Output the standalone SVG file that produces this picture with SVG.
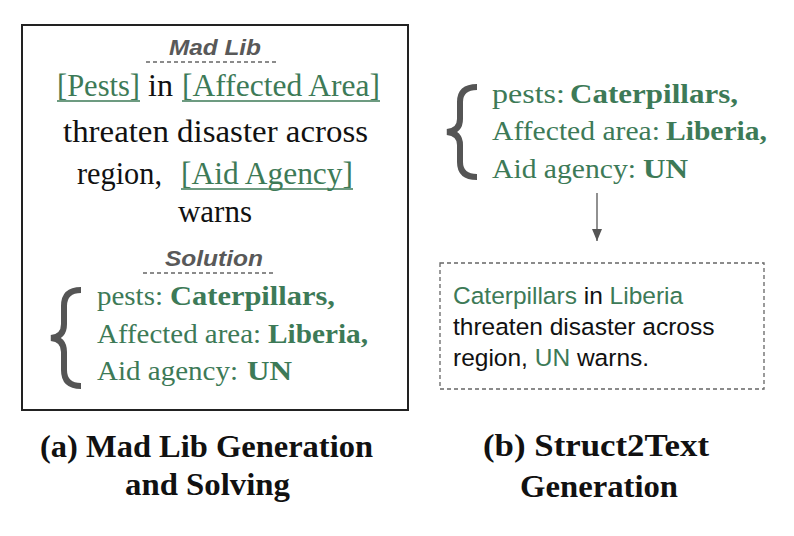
<svg xmlns="http://www.w3.org/2000/svg" width="794" height="536" viewBox="0 0 794 536">
<style>
.serif{font-family:"Liberation Serif","DejaVu Serif",serif;}
.body{font-size:31px;fill:#111;}
.g{fill:#3d7a57;}
.sol{font-size:27px;}
.b{font-weight:bold;}
.ttl{font-family:"Liberation Sans",Arial,sans-serif;font-style:italic;font-weight:bold;font-size:22px;fill:#595959;}
.dash{stroke:#666;stroke-width:1.3;stroke-dasharray:4,3;fill:none;}
.ul{stroke:#3d7a57;stroke-width:1.5;}
.brace{stroke:#555;stroke-width:6;fill:none;stroke-linecap:butt;}
.sans{font-family:"Liberation Sans",Arial,sans-serif;font-size:24.5px;fill:#111;}
.cap{font-family:"Liberation Serif","DejaVu Serif",serif;font-weight:bold;font-size:32px;fill:#111;}
</style>
<defs>
<marker id="ah" markerWidth="12" markerHeight="10" refX="12" refY="5" orient="auto" markerUnits="userSpaceOnUse" viewBox="0 0 12 10">
<path d="M0,0 L12,5 L0,10 Z" fill="#555"/>
</marker>
</defs>
<rect width="794" height="536" fill="#fff"/>

<g id="madlib-box">
<rect x="22" y="25" width="386" height="385" fill="none" stroke="#222" stroke-width="2"/>
<text class="ttl" x="169" y="55" textLength="92" lengthAdjust="spacingAndGlyphs">Mad Lib</text>
<line class="dash" x1="146" y1="62" x2="278" y2="62"/>
<text class="serif body g" x="57" y="96" textLength="83" lengthAdjust="spacingAndGlyphs">[Pests]</text>
<text class="serif body" x="148" y="96" textLength="25" lengthAdjust="spacingAndGlyphs">in</text>
<text class="serif body g" x="182" y="96" textLength="198" lengthAdjust="spacingAndGlyphs">[Affected Area]</text>
<line class="ul" x1="57" y1="101" x2="140" y2="101"/>
<line class="ul" x1="182" y1="101" x2="380" y2="101"/>
<text class="serif body" x="63" y="142" textLength="305" lengthAdjust="spacingAndGlyphs">threaten disaster across</text>
<text class="serif body" x="77" y="184" textLength="85" lengthAdjust="spacingAndGlyphs">region,</text>
<text class="serif body g" x="181" y="184" textLength="172" lengthAdjust="spacingAndGlyphs">[Aid Agency]</text>
<line class="ul" x1="181" y1="189" x2="353" y2="189"/>
<text class="serif body" x="215" y="222" text-anchor="middle">warns</text>
<text class="ttl" x="165" y="266" textLength="98" lengthAdjust="spacingAndGlyphs">Solution</text>
<line class="dash" x1="143" y1="273" x2="275" y2="273"/>
<path class="brace" d="M81,290 Q64,290 64,306 L64,324 Q64,337 51,338 Q64,339 64,352 L64,370 Q64,386 81,386"/>
<text class="serif sol g" x="97" y="305" textLength="66" lengthAdjust="spacingAndGlyphs">pests:</text>
<text class="serif sol g b" x="170" y="305" textLength="165" lengthAdjust="spacingAndGlyphs">Caterpillars,</text>
<text class="serif sol g" x="97" y="343" textLength="164" lengthAdjust="spacingAndGlyphs">Affected area:</text>
<text class="serif sol g b" x="268" y="343" textLength="100" lengthAdjust="spacingAndGlyphs">Liberia,</text>
<text class="serif sol g" x="97" y="380" textLength="141" lengthAdjust="spacingAndGlyphs">Aid agency:</text>
<text class="serif sol g b" x="247" y="380" textLength="45" lengthAdjust="spacingAndGlyphs">UN</text>
</g>

<g id="struct-input">
<path class="brace" d="M477,87 Q460,87 460,102 L460,119 Q460,131 447,132 Q460,133 460,145 L460,162 Q460,177 477,177"/>
<text class="serif sol g" x="492" y="103" textLength="73" lengthAdjust="spacingAndGlyphs">pests:</text>
<text class="serif sol g b" x="570" y="103" textLength="168" lengthAdjust="spacingAndGlyphs">Caterpillars,</text>
<text class="serif sol g" x="492" y="140" textLength="168" lengthAdjust="spacingAndGlyphs">Affected area:</text>
<text class="serif sol g b" x="666" y="140" textLength="101" lengthAdjust="spacingAndGlyphs">Liberia,</text>
<text class="serif sol g" x="492" y="178" textLength="144" lengthAdjust="spacingAndGlyphs">Aid agency:</text>
<text class="serif sol g b" x="643" y="178" textLength="45" lengthAdjust="spacingAndGlyphs">UN</text>
</g>

<g id="connectors">
<line x1="597" y1="193" x2="597" y2="241" stroke="#555" stroke-width="1.3" marker-end="url(#ah)"/>
</g>

<g id="generated-text">
<rect x="440" y="263" width="324" height="126" class="dash" stroke="#555" stroke-width="1.5"/>
<text class="sans" x="453" y="304"><tspan class="g">Caterpillars</tspan> in <tspan class="g">Liberia</tspan></text>
<text class="sans" x="453" y="335">threaten disaster across</text>
<text class="sans" x="453" y="366">region, <tspan class="g">UN</tspan> warns.</text>
</g>

<g id="captions">
<text class="cap" x="40" y="457" textLength="333" lengthAdjust="spacingAndGlyphs">(a) Mad Lib Generation</text>
<text class="cap" x="125" y="495" textLength="165" lengthAdjust="spacingAndGlyphs">and Solving</text>
<text class="cap" x="483" y="456" textLength="226" lengthAdjust="spacingAndGlyphs">(b) Struct2Text</text>
<text class="cap" x="520" y="497" textLength="158" lengthAdjust="spacingAndGlyphs">Generation</text>
</g>
</svg>
